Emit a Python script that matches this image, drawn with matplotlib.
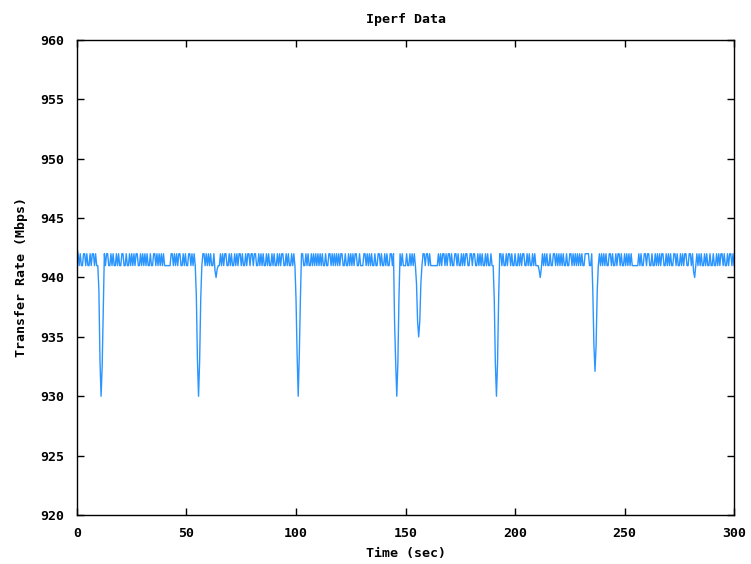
import numpy as np
import matplotlib
matplotlib.use("Agg")
import matplotlib.pyplot as plt

# Base transfer-rate pattern, one char per 0.5 s sample: value = 940 + digit
base_rows = [
    "12121122121121221211" "21121212211212112121" "12211211212121221121",
    "21212112112212121212" "11111122121212211212" "11221212121121122121",
    "21211221211212122112" "12112121221211212212" "21221121212112121121",
    "21121212211212112121" "12122221121211212121" "21212112112212121212",
    "12211211212121221121" "11221212121121122121" "12121122121121221211",
    "12112121221211212212" "21211111112121221212" "21211221211212122112",
    "21221121212112121121" "12121122121121221211" "21121212211212112121",
    "11221212121121122121" "21212112112212121212" "12112222112121121212",
    "12121122121121221211" "21212121111112121122" "12211211212121221121",
    "21211221211212122112" "21221121212112121121" "12112121221211212212",
    "1",
]
sample_step = 0.5

# Dips / deviations (sample index -> Mbps)
dips = {
    0: 942.5,
    20: 939.0, 21: 933.0, 22: 930.0, 23: 932.5, 24: 937.5,
    109: 938.4, 110: 933.0, 111: 930.0, 112: 933.0, 113: 938.2,
    126: 940.6, 127: 940.0, 128: 940.7,
    200: 938.2, 201: 933.5, 202: 930.0, 203: 933.5, 204: 938.2,
    290: 936.2, 291: 932.8, 292: 930.0, 293: 932.8, 294: 938.3,
    309: 941.0, 310: 939.5, 311: 936.3, 312: 935.0, 313: 936.3, 314: 939.5,
    381: 938.2, 382: 932.8, 383: 930.0, 384: 932.8, 385: 938.2,
    422: 940.6, 423: 940.0, 424: 940.8,
    471: 938.8, 472: 934.3, 473: 932.1, 474: 934.3, 475: 938.8,
    563: 940.5, 564: 940.0, 565: 941.0,
}

xticks = [0, 50, 100, 150, 200, 250, 300]
yticks = [920, 925, 930, 935, 940, 945, 950, 955, 960]

digits = "".join(base_rows)
rate = np.array([940.0 + int(c) for c in digits])
for i, v in dips.items():
    rate[i] = v
t = np.arange(len(rate)) * sample_step

plt.rcParams['font.family'] = ['DejaVu Sans Mono']
plt.rcParams['font.weight'] = 'bold'

fig = plt.figure(figsize=(7.51, 5.64), dpi=100)
ax = fig.add_axes([0.1025, 0.087, 0.875, 0.842])
ax.plot(t, rate, color='#2b95ff', linewidth=1.0)

ax.set_xlim(0, 300)
ax.set_ylim(920, 960)
ax.set_xticks(xticks)
ax.set_yticks(yticks)
ax.tick_params(direction='in', length=5, width=1, top=True, right=True,
               labelsize=9.5)
ax.tick_params(axis='x', pad=9)
ax.tick_params(axis='y', pad=9)
for lbl in ax.get_xticklabels() + ax.get_yticklabels():
    lbl.set_fontweight('bold')
for s in ax.spines.values():
    s.set_linewidth(1.0)

ax.set_title("Iperf Data", fontsize=9.5, fontweight='bold', pad=12)
ax.set_xlabel("Time (sec)", fontsize=9.5, fontweight='bold', labelpad=5)
ax.set_ylabel("Transfer Rate (Mbps)", fontsize=9.5, fontweight='bold', labelpad=9)

fig.savefig("out.png", dpi=100)
